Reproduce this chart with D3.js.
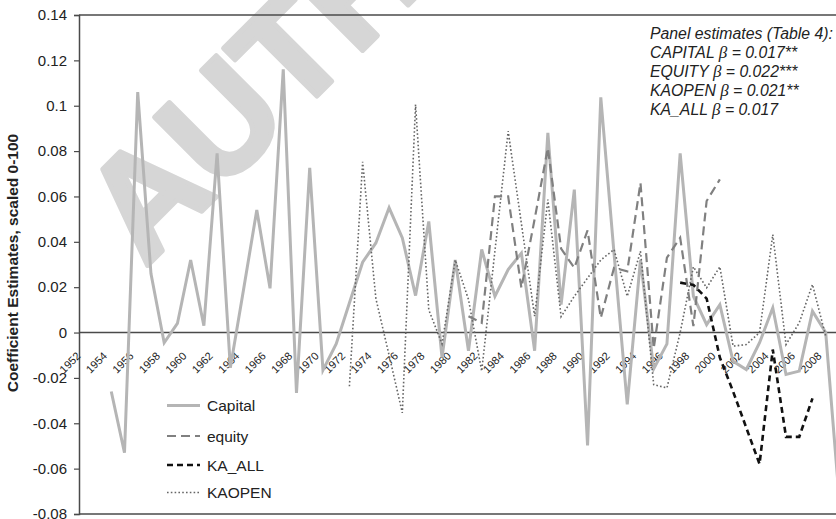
<!DOCTYPE html>
<html>
<head>
<meta charset="utf-8">
<script src="https://cdn.jsdelivr.net/npm/d3@7"></script>
<style>
html,body{margin:0;padding:0;background:#fff;overflow:hidden;}
svg{display:block;}
text{font-family:"Liberation Sans",Arial,Helvetica,sans-serif;}
</style>
</head>
<body>
<svg id="chart" width="836" height="519"></svg>
<script>
const years = d3.range(1952, 2010);
const tickYears = d3.range(1952, 2009, 2);
const yTicks = [0.14,0.12,0.1,0.08,0.06,0.04,0.02,0,-0.02,-0.04,-0.06,-0.08];
const yTickLabels = ["0.14","0.12","0.1","0.08","0.06","0.04","0.02","0","-0.02","-0.04","-0.06","-0.08"];

// Capital 1952..2009
const capital = [null,null,-0.026,-0.053,0.106,0.026,-0.0045,0.004,0.032,0.003,
  0.079,-0.0155,0.019,0.054,0.0195,0.116,-0.0266,0.0726,-0.0166,-0.005,
  0.013,0.031,0.0395,0.055,0.0417,0.0163,0.049,-0.011,0.032,-0.008,
  0.0366,0.016,0.0278,0.035,-0.008,0.088,0.0123,0.063,-0.0498,0.1037,
  0.035,-0.0317,0.032,-0.016,-0.005,0.079,0.016,0.0035,0.0123,-0.0127,
  -0.0163,-0.0045,0.0109,-0.0185,-0.017,0.0094,0.0,-0.072];
// equity 1981..2000
const equityYears = d3.range(1981, 2001);
const equity = [0.0072,0.0043,0.060,0.060,0.0197,0.05,0.0814,0.037,0.0285,0.045,
  0.0065,0.0285,0.027,0.066,-0.007,0.033,0.0418,0.0028,0.058,0.0675];
// KA_ALL 1997..2007
const kaAllYears = d3.range(1997, 2008);
const kaAll = [0.022,0.021,0.015,-0.011,-0.026,-0.042,-0.058,-0.0075,-0.046,-0.046,-0.029];
// KAOPEN 1972..2008
const kaopenYears = d3.range(1972, 2009);
const kaopen = [-0.0237,0.0753,0.015,-0.01,-0.0354,0.1005,0.01,-0.005,0.032,0.0146,
  -0.017,0.036,0.0888,0.048,0.0072,0.0586,0.007,0.016,0.024,0.032,
  0.0366,0.016,0.0358,-0.023,-0.0244,0.0,0.029,0.0197,0.029,-0.006,
  -0.0053,0.0,0.0432,-0.0053,0.0043,0.0212,-0.0016];

const annotation = ["Panel estimates (Table 4):",
  ["CAPITAL ","β"," = 0.017**"],
  ["EQUITY ","β"," = 0.022***"],
  ["KAOPEN ","β"," = 0.021**"],
  ["KA_ALL ","β"," = 0.017"]];

const svg = d3.select("#chart");
const plotLeft = 79, plotTop = 15, plotBottom = 514;
const x = d3.scaleLinear().domain([1952, 2008]).range([84.8, 825.7]);
const y = d3.scaleLinear().domain([-0.08, 0.14]).range([plotBottom, plotTop]);

// watermark
svg.append("text")
  .attr("transform", "translate(145,268) rotate(-45)")
  .attr("font-size", 145).attr("font-weight", "bold")
  .attr("fill", "#d6d6d6").attr("stroke", "#d6d6d6").attr("stroke-width", 5)
  .attr("stroke-linejoin", "round")
  .text("AUTHOR'S PROOF");

const axisColor = "#4a4a4a";
svg.append("line").attr("x1", plotLeft).attr("x2", 836).attr("y1", y(0.14)).attr("y2", y(0.14))
  .attr("stroke", axisColor).attr("stroke-width", 1.5);
svg.append("line").attr("x1", plotLeft).attr("x2", 836).attr("y1", y(-0.08)).attr("y2", y(-0.08))
  .attr("stroke", axisColor).attr("stroke-width", 1.5);

const yAxis = d3.axisLeft(y).tickValues(yTicks).tickSize(5).tickPadding(7)
  .tickFormat((d,i) => yTickLabels[i]);
const ga = svg.append("g").attr("transform", `translate(${plotLeft},0)`).call(yAxis);
ga.select(".domain").attr("stroke", axisColor).attr("stroke-width", 1.5);
ga.selectAll(".tick line").attr("stroke", axisColor).attr("stroke-width", 1.2);
ga.selectAll(".tick text").attr("font-size", 15).attr("fill", "#222")
  .attr("font-family", "Liberation Sans, Arial, sans-serif");

svg.append("line").attr("x1", plotLeft).attr("x2", 836).attr("y1", y(0)).attr("y2", y(0))
  .attr("stroke", axisColor).attr("stroke-width", 1.5);

// x labels: rotated -45, top-right corner placed just below the zero line
const xl = svg.append("g").selectAll("text").data(tickYears).join("text")
  .attr("text-anchor", "end")
  .attr("font-size", 11).attr("fill", "#222")
  .attr("transform", d => `translate(${x(d)},${y(0) + 20}) rotate(-45)`)
  .text(d => d);
xl.each(function(d) {
  const r = this.getBoundingClientRect();
  const dx = (x(d) - 2) - r.right;
  const dy = (y(0) + 17) - r.top;
  d3.select(this).attr("transform", `translate(${x(d) + dx},${y(0) + 20 + dy}) rotate(-45)`);
});

svg.append("text")
  .attr("transform", `translate(18,263) rotate(-90)`)
  .attr("text-anchor", "middle").attr("font-weight", "bold")
  .attr("font-size", 15.5).attr("fill", "#222")
  .text("Coefficient Estimates, scaled 0-100");

const line = d3.line().defined(d => d[1] !== null).x(d => x(d[0])).y(d => y(d[1]));
const styles = {
  capital: {stroke: "#b5b5b5", w: 3, dash: null},
  equity: {stroke: "#808080", w: 2.2, dash: "9,5"},
  kaAll: {stroke: "#111", w: 2.6, dash: "6,4"},
  kaopen: {stroke: "#666", w: 1.6, dash: "1.6,2.2"}
};
const series = [
  ["capital", years.map((yr,i) => [yr, capital[i]])],
  ["kaopen", kaopenYears.map((yr,i) => [yr, kaopen[i]])],
  ["equity", equityYears.map((yr,i) => [yr, equity[i]])],
  ["kaAll", kaAllYears.map((yr,i) => [yr, kaAll[i]])]
];
series.forEach(([k, data]) => {
  const s = styles[k];
  svg.append("path").datum(data).attr("d", line)
    .attr("fill", "none").attr("stroke", s.stroke).attr("stroke-width", s.w)
    .attr("stroke-dasharray", s.dash).attr("stroke-linejoin", "miter");
});

const legend = [["Capital","capital"],["equity","equity"],["KA_ALL","kaAll"],["KAOPEN","kaopen"]];
const legY = [405.5, 436, 465, 492.5];
legend.forEach(([label,k], i) => {
  const s = styles[k];
  svg.append("line").attr("x1", 167).attr("x2", 200).attr("y1", legY[i]).attr("y2", legY[i])
    .attr("stroke", s.stroke).attr("stroke-width", s.w).attr("stroke-dasharray", s.dash);
  svg.append("text").attr("x", 207).attr("y", legY[i]).attr("dy", "0.36em")
    .attr("font-size", 15.5).attr("fill", "#222").text(label);
});

const annY = [39, 58, 77, 96, 114.5];
annotation.forEach((a, i) => {
  const t = svg.append("text").attr("x", 650).attr("y", annY[i])
    .attr("font-size", 15.8).attr("font-style", "italic").attr("fill", "#222");
  if (typeof a === "string") t.text(a);
  else {
    t.append("tspan").text(a[0]);
    t.append("tspan").attr("font-family", "Liberation Serif, serif").attr("font-size", 17).text(a[1]);
    t.append("tspan").text(a[2]);
  }
});
</script>
</body>
</html>
